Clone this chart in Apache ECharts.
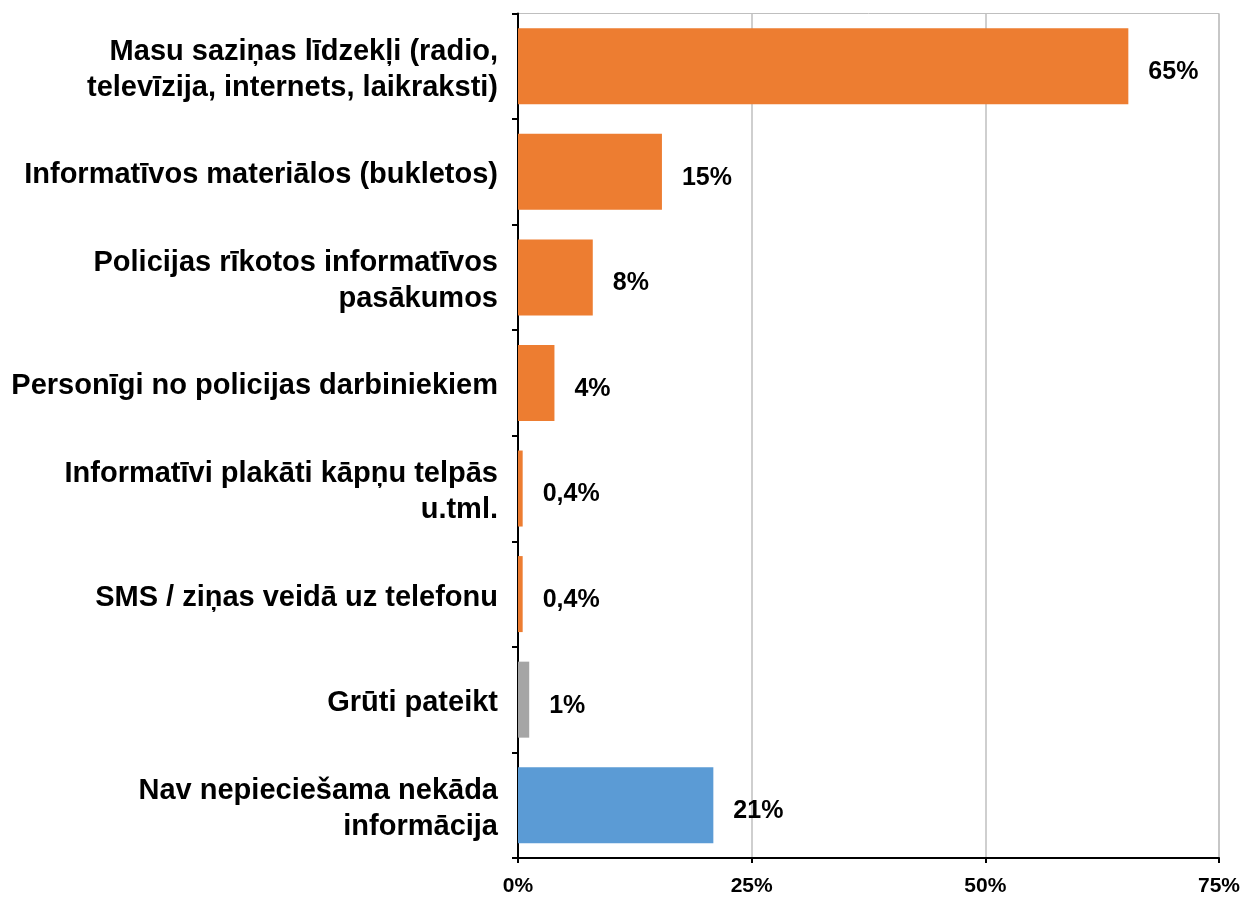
<!DOCTYPE html>
<html>
<head>
<meta charset="utf-8">
<style>
html,body{margin:0;padding:0;background:#fff;}
#chart{width:1246px;height:897px;}
</style>
<script src="https://cdn.jsdelivr.net/npm/echarts@6/dist/echarts.min.js"></script>
</head>
<body>
<div id="chart"></div>
<script>
var categories = [
  'Masu saziņas līdzekļi (radio,\ntelevīzija, internets, laikraksti)',
  'Informatīvos materiālos (bukletos)',
  'Policijas rīkotos informatīvos\npasākumos',
  'Personīgi no policijas darbiniekiem',
  'Informatīvi plakāti kāpņu telpās\nu.tml.',
  'SMS / ziņas veidā uz telefonu',
  'Grūti pateikt',
  'Nav nepieciešama nekāda\ninformācija'
];
var values = [65.3, 15.4, 8.0, 3.9, 0.5, 0.5, 1.2, 20.9];
var valueLabels = ['65%', '15%', '8%', '4%', '0,4%', '0,4%', '1%', '21%'];
var barColors = ['#ED7D31', '#ED7D31', '#ED7D31', '#ED7D31', '#ED7D31', '#ED7D31', '#A5A5A5', '#5B9BD5'];
var xTicks = [0, 25, 50, 75];

var chart = echarts.init(document.getElementById('chart'));
var fontFam = '"Liberation Sans", Arial, sans-serif';
chart.setOption({
  animation: false,
  backgroundColor: '#ffffff',
  grid: {
    left: 518, right: 27, top: 13.5, bottom: 39,
    show: true, borderColor: '#BFBFBF', borderWidth: 1
  },
  xAxis: {
    type: 'value',
    min: xTicks[0],
    max: xTicks[xTicks.length - 1],
    interval: xTicks[1] - xTicks[0],
    axisLine: { show: true, lineStyle: { color: '#000', width: 2 } },
    axisTick: { show: true, length: 5, lineStyle: { color: '#000', width: 2 } },
    splitLine: { show: true, lineStyle: { color: '#BFBFBF', width: 1.5 } },
    axisLabel: {
      formatter: '{value}%',
      color: '#000', fontFamily: fontFam, fontWeight: 'bold', fontSize: 21,
      margin: 18
    }
  },
  yAxis: {
    type: 'category',
    inverse: true,
    data: categories,
    axisLine: { show: true, lineStyle: { color: '#000', width: 2 } },
    axisTick: { show: true, length: 6, lineStyle: { color: '#000', width: 2 } },
    axisLabel: {
      color: '#000', fontFamily: fontFam, fontWeight: 'bold', fontSize: 29,
      lineHeight: 36, margin: 20, align: 'right',
      formatter: function (v) {
        return v.split('\n').map(function (s) { return '{a|' + s + '}'; }).join('\n');
      },
      rich: {
        a: {
          color: '#000', fontFamily: fontFam, fontWeight: 'bold', fontSize: 29,
          lineHeight: 36, verticalAlign: 'bottom', align: 'right'
        }
      }
    }
  },
  series: [{
    type: 'bar',
    data: values.map(function (v, i) {
      return { value: v, itemStyle: { color: barColors[i] } };
    }),
    barCategoryGap: '28%',
    label: {
      show: true,
      position: 'right',
      distance: 20,
      offset: [0, 6],
      formatter: function (p) { return valueLabels[p.dataIndex]; },
      color: '#000', fontFamily: fontFam, fontWeight: 'bold', fontSize: 25
    }
  }]
});
</script>
</body>
</html>
